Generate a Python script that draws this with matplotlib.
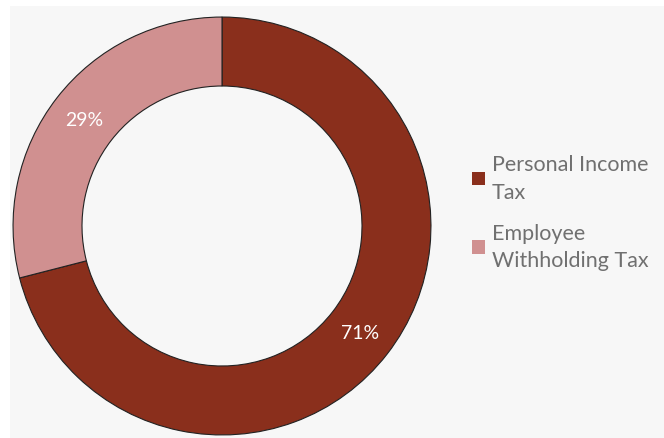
import matplotlib.pyplot as plt
from matplotlib.patches import Rectangle, Patch

labels = ['Personal Income\nTax', 'Employee\nWithholding Tax']
shares = [71, 29]
colors = ['#8a2f1c', '#d09090']

plt.rcParams['font.family'] = ['Lato', 'DejaVu Sans']

fig = plt.figure(figsize=(6.64, 4.39), dpi=100)
fig.patch.set_facecolor('white')
# faint patterned chart area, approximated by a flat light grey
fig.patches.append(Rectangle((10 / 664, 0), 1, 1 - 7 / 439, transform=fig.transFigure,
                             facecolor='#f7f7f7', edgecolor='none', zorder=-5))

# donut: centre ~ (222, 227) px, outer radius ~210 px
ax = fig.add_axes([12 / 664, 2 / 439, 420 / 664, 420 / 439])
ax.set_facecolor('none')
ax.set_zorder(2)
wedges, texts, autotexts = ax.pie(
    shares, colors=colors, startangle=90, counterclock=False,
    autopct='%d%%', pctdistance=0.835,
    wedgeprops=dict(width=0.33, edgecolor='#222222', linewidth=0.8),
    textprops=dict(color='white', fontsize=14))
ax.set_xlim(-1.005, 1.005)
ax.set_ylim(-1.005, 1.005)
ax.set_aspect('equal')

handles = [Patch(facecolor=c, edgecolor='none') for c in colors]
leg = fig.legend(handles, labels, loc='upper left', bbox_to_anchor=(453 / 664, 1 - 136 / 439),
                 frameon=False, fontsize=15.5, handlelength=0.6, handleheight=0.6,
                 handletextpad=0.3, labelspacing=1.0, labelcolor='#707070')
for t in leg.get_texts():
    t.set_linespacing(1.45)

fig.savefig('out.png', dpi=100)
